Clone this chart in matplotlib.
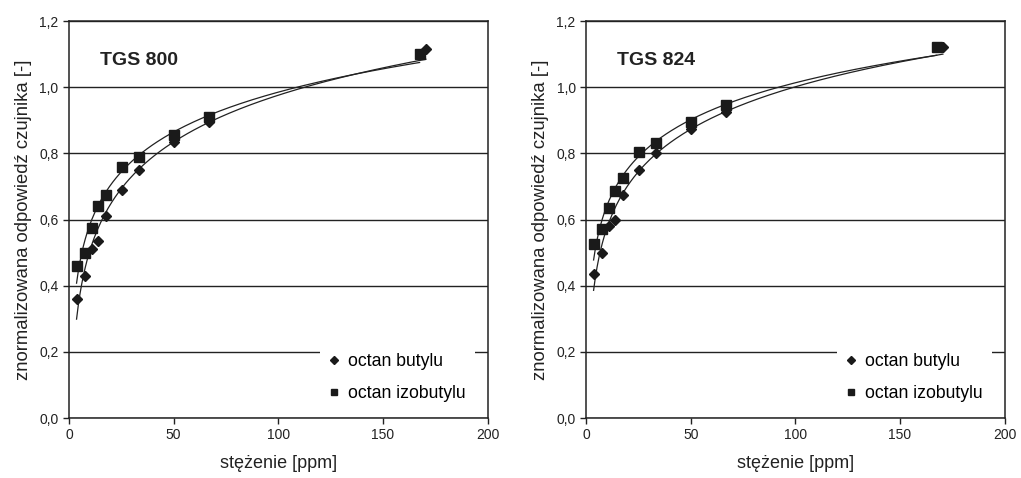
import numpy as np
import matplotlib
matplotlib.use('Agg')
import matplotlib.pyplot as plt

plt.rcParams['font.family'] = ['Liberation Sans', 'DejaVu Sans']

# stężenia [ppm]
conc = [3.6, 7.5, 10.8, 14.0, 17.5, 25.5, 33.5, 50.0, 67.0]
conc_last_butyl = 170.5
conc_last_izo = 167.5

# TGS 800
tgs800_butyl = [0.36, 0.43, 0.51, 0.535, 0.61, 0.69, 0.75, 0.835, 0.895, 1.115]
tgs800_izo = [0.46, 0.50, 0.575, 0.64, 0.675, 0.76, 0.79, 0.855, 0.91, 1.10]

# TGS 824
tgs824_butyl = [0.435, 0.50, 0.58, 0.60, 0.675, 0.75, 0.80, 0.875, 0.925, 1.12]
tgs824_izo = [0.525, 0.57, 0.635, 0.685, 0.725, 0.805, 0.83, 0.895, 0.945, 1.12]

titles = ['TGS 800', 'TGS 824']
yticks = [0.0, 0.2, 0.4, 0.6, 0.8, 1.0, 1.2]
xticks = [0, 50, 100, 150, 200]


def log_fit(x, y):
    a, b = np.polyfit(np.log(x), y, 1)
    xs = np.linspace(min(x), max(x), 200)
    return xs, a * np.log(xs) + b


fig = plt.figure(figsize=(10.21, 4.78), dpi=100)
ax1 = fig.add_axes([0.0676, 0.1255, 0.410, 0.8305])
ax2 = fig.add_axes([0.574, 0.1255, 0.410, 0.8305])

data = [(tgs800_butyl, tgs800_izo), (tgs824_butyl, tgs824_izo)]

for ax, title, (butyl, izo) in zip([ax1, ax2], titles, data):
    xb = conc + [conc_last_butyl]
    xi = conc + [conc_last_izo]

    # linie trendu (logarytmiczne)
    xs, ys = log_fit(xb, butyl)
    ax.plot(xs, ys, color='#222222', linewidth=0.9, zorder=3)
    xs, ys = log_fit(xi, izo)
    ax.plot(xs, ys, color='#222222', linewidth=0.9, zorder=3)

    ax.plot(xi, izo, linestyle='none', marker='s', markersize=6.5,
            color='#1a1a1a', label='octan izobutylu', zorder=4)
    ax.plot(xb, butyl, linestyle='none', marker='D', markersize=5.5,
            color='#1a1a1a', label='octan butylu', zorder=4)

    ax.set_xlim(0, 200)
    ax.set_ylim(0, 1.2)
    ax.set_xticks(xticks)
    ax.set_yticks(yticks)
    ax.set_yticklabels([f'{v:.1f}'.replace('.', ',') for v in yticks])
    ax.tick_params(direction='out', length=4, width=1, labelsize=10,
                   colors='#222222')
    for s in ax.spines.values():
        s.set_color('#222222')
        s.set_linewidth(1.1)

    ax.grid(True, axis='y', color='#222222', linewidth=1.0)
    ax.set_axisbelow(True)

    ax.set_xlabel('stężenie [ppm]', fontsize=13, color='#222222', labelpad=9)
    ax.set_ylabel('znormalizowana odpowiedź czujnika [-]', fontsize=13.3,
                  color='#222222', labelpad=5)

    ax.text(0.075, 0.9, title, transform=ax.transAxes, fontsize=14,
            fontweight='bold', color='#222222', va='center')

    h, l = ax.get_legend_handles_labels()
    leg = ax.legend(h[::-1], l[::-1], loc='lower right',
                    bbox_to_anchor=(0.99, -0.005), frameon=True,
                    fontsize=12.7, handlelength=0.6, handletextpad=0.5,
                    labelspacing=0.85, borderpad=0.5, markerscale=0.75)
    leg.get_frame().set_edgecolor('none')
    leg.get_frame().set_facecolor('white')
    leg.get_frame().set_alpha(1.0)
    leg.get_frame().set_boxstyle('square', pad=0.0)

fig.savefig('out.png', dpi=100, facecolor='white')
